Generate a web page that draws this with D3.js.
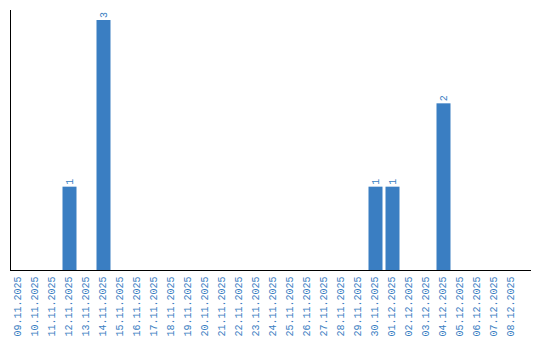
<!DOCTYPE html>
<html>
<head>
<meta charset="utf-8">
<script src="https://cdn.jsdelivr.net/npm/d3@7"></script>
<style>
  body { margin: 0; background: #fff; }
  svg text { font-family: "Liberation Mono", "DejaVu Sans Mono", monospace; }
</style>
</head>
<body>
<div class="chart"></div>
<script>
// Daily counts, 09.11.2025 - 08.12.2025
var dates = ["09.11.2025", "10.11.2025", "11.11.2025", "12.11.2025", "13.11.2025",
  "14.11.2025", "15.11.2025", "16.11.2025", "17.11.2025", "18.11.2025",
  "19.11.2025", "20.11.2025", "21.11.2025", "22.11.2025", "23.11.2025",
  "24.11.2025", "25.11.2025", "26.11.2025", "27.11.2025", "28.11.2025",
  "29.11.2025", "30.11.2025", "01.12.2025", "02.12.2025", "03.12.2025",
  "04.12.2025", "05.12.2025", "06.12.2025", "07.12.2025", "08.12.2025"];
var counts = [0, 0, 0, 1, 0, 3, 0, 0, 0, 0,
  0, 0, 0, 0, 0, 0, 0, 0, 0, 0,
  0, 1, 1, 0, 0, 2, 0, 0, 0, 0];

var svgWidth = 540;
var svgHeight = 340;
var barColor = "#3a7ec2";

var data = dates.map(function(d, i) { return { date: d, count: counts[i] }; });

var svg = d3.select(".chart")
  .append("svg")
  .attr("width", svgWidth)
  .attr("height", svgHeight);

var x = d3.scaleBand()
  .domain(dates)
  .range([10, 520])
  .paddingInner(3 / 17)
  .paddingOuter(1.5 / 17);

var y = d3.scaleLinear()
  .domain([0, d3.max(counts)])
  .range([270, 20]);

// bars
svg.selectAll("rect.bar")
  .data(data.filter(function(d) { return d.count > 0; }))
  .enter().append("rect")
  .attr("class", "bar")
  .attr("x", function(d) { return x(d.date); })
  .attr("y", function(d) { return y(d.count); })
  .attr("width", x.bandwidth())
  .attr("height", function(d) { return y(0) - y(d.count); })
  .attr("fill", barColor);

// value labels, rotated above each bar
svg.selectAll("text.value")
  .data(data.filter(function(d) { return d.count > 0; }))
  .enter().append("text")
  .attr("class", "value")
  .attr("transform", function(d) {
    return "translate(" + (x(d.date) + x.bandwidth() / 2 + 3.5) + "," + (y(d.count) - 2) + ") rotate(-90)";
  })
  .attr("font-size", 10)
  .attr("fill", barColor)
  .text(function(d) { return d.count; });

// x axis: labels only, no ticks
var xAxis = d3.axisBottom(x).tickSize(0).tickPadding(0);
var gx = svg.append("g")
  .attr("transform", "translate(0,270)")
  .call(xAxis);
gx.select(".domain").remove();
gx.selectAll("text")
  .attr("font-size", 10)
  .attr("fill", barColor)
  .attr("text-anchor", "end")
  .attr("dy", null)
  .attr("y", 0)
  .attr("transform", "translate(2.5,6.5) rotate(-90)");

// axis lines
svg.append("line")
  .attr("x1", 10.5).attr("x2", 10.5)
  .attr("y1", 10).attr("y2", 270.5)
  .attr("stroke", "#000");
svg.append("line")
  .attr("x1", 10).attr("x2", 531)
  .attr("y1", 270.5).attr("y2", 270.5)
  .attr("stroke", "#000");
</script>
</body>
</html>
